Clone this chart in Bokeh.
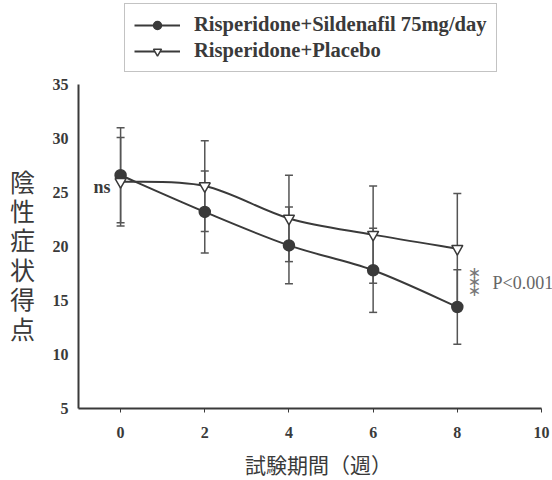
import numpy as np
from bokeh.plotting import figure
from bokeh.models import (ColumnDataSource, Range1d, Whisker, TeeHead, Label,
                          Legend, LegendItem, FixedTicker)
from bokeh.embed import file_html
from bokeh.resources import INLINE

# ---- data ----
weeks = [0, 2, 4, 6, 8]
sil_mean = [26.6, 23.2, 20.1, 17.8, 14.4]
sil_sd = [4.4, 3.8, 3.55, 3.9, 3.45]
pla_mean = [26.0, 25.6, 22.6, 21.1, 19.8]
pla_sd = [4.1, 4.2, 4.0, 4.5, 5.1]
x_ticks = [0, 2, 4, 6, 8, 10]
y_ticks = [5, 10, 15, 20, 25, 30, 35]
series_names = ["Risperidone+Sildenafil 75mg/day", "Risperidone+Placebo"]
y_title = "陰性症状得点"
x_title = "試験期間（週）"

INK = "#3a3a3a"
SERIF = "Liberation Serif"
CJK = "Noto Sans CJK JP"

W, H = 552, 480
# axis box in page pixels: x=-1 at 78, x=10 at 541; y=35 at 84, y=5 at 408
PX_X = (541 - 78) / 11.0
PX_Y = (408 - 84) / 30.0


def X(px):  # page pixel -> data x
    return -1 + (px - 78) / PX_X


def Y(py):  # page pixel -> data y
    return 5 + (408 - py) / PX_Y


p = figure(width=W, height=H, output_backend="svg", toolbar_location=None,
           x_range=Range1d(X(0), X(W)), y_range=Range1d(Y(H), Y(0)),
           min_border=0)
p.outline_line_color = None
p.xgrid.grid_line_color = None
p.ygrid.grid_line_color = None

for ax in (p.xaxis[0], p.yaxis[0]):
    ax.axis_line_color = INK
    ax.axis_line_width = 2
    ax.minor_tick_line_color = None
    ax.major_label_text_font = SERIF
    ax.major_label_text_font_style = "bold"
    ax.major_label_text_font_size = "16px"
    ax.major_label_text_color = INK
p.xaxis.fixed_location = 5
p.yaxis.fixed_location = -1
p.xaxis.bounds = (-1, 10)
p.yaxis.bounds = (5, 35)
p.xaxis.ticker = FixedTicker(ticks=x_ticks)
p.yaxis.ticker = FixedTicker(ticks=y_ticks)
p.xaxis.major_tick_line_color = INK
p.xaxis.major_tick_line_width = 1
p.xaxis.major_tick_in = 0
p.xaxis.major_tick_out = 4
p.xaxis.major_label_standoff = 14
p.yaxis.major_tick_line_color = None
p.yaxis.major_tick_in = 0
p.yaxis.major_tick_out = 0
p.yaxis.major_label_standoff = 10


def smooth(xs, ys):
    """Excel-style smoothed segments (cubic Bezier through the points)."""
    n = len(xs)
    P = list(zip(xs, ys))
    segs = dict(x0=[], y0=[], x1=[], y1=[], cx0=[], cy0=[], cx1=[], cy1=[])
    for i in range(n - 1):
        pm = P[max(i - 1, 0)]
        p0 = P[i]
        p1 = P[i + 1]
        p2 = P[min(i + 2, n - 1)]
        segs["x0"].append(p0[0]); segs["y0"].append(p0[1])
        segs["x1"].append(p1[0]); segs["y1"].append(p1[1])
        segs["cx0"].append(p0[0] + (p1[0] - pm[0]) / 6)
        segs["cy0"].append(p0[1] + (p1[1] - pm[1]) / 6)
        segs["cx1"].append(p1[0] - (p2[0] - p0[0]) / 6)
        segs["cy1"].append(p1[1] - (p2[1] - p0[1]) / 6)
    return ColumnDataSource(segs)


def add_series(mean, sd, marker, fill):
    m = np.array(mean)
    s = np.array(sd)
    src = ColumnDataSource(dict(x=weeks, y=mean, upper=m + s, lower=m - s))
    w = Whisker(source=src, base="x", upper="upper", lower="lower",
                line_color="#555555", line_width=1.5, level="underlay",
                upper_head=TeeHead(size=8, line_color="#555555", line_width=1.5),
                lower_head=TeeHead(size=8, line_color="#555555", line_width=1.5))
    p.add_layout(w)
    p.bezier(x0="x0", y0="y0", x1="x1", y1="y1", cx0="cx0", cy0="cy0",
             cx1="cx1", cy1="cy1", source=smooth(weeks, mean),
             line_color=INK, line_width=2)
    # legend-only line swatch (no visible data)
    leg_line = p.line(x=[np.nan], y=[np.nan], line_color=INK, line_width=2)
    sc = p.scatter(x="x", y="y", source=src, marker=marker, size=11,
                   fill_color=fill, line_color=INK, line_width=1.5)
    return [leg_line, sc]


r_sil = add_series(sil_mean, sil_sd, "circle", INK)
r_pla = add_series(pla_mean, pla_sd, "inverted_triangle", "white")

legend = Legend(items=[LegendItem(label=series_names[0], renderers=r_sil),
                       LegendItem(label=series_names[1], renderers=r_pla)],
                location=(124, H - 72), orientation="vertical",
                border_line_color="#888888", border_line_width=1,
                background_fill_color="white", background_fill_alpha=1,
                padding=9, spacing=3, margin=0,
                glyph_width=46, glyph_height=20, label_height=20,
                label_standoff=14,
                label_text_font=SERIF, label_text_font_style="bold",
                label_text_font_size="20.6px", label_text_color=INK)
p.add_layout(legend, "center")

# vertical y title, upright characters
for i, ch in enumerate(y_title):
    p.add_layout(Label(x=X(22), y=Y(180 + i * 29.4), text=ch,
                       text_font=CJK, text_font_size="25px", text_color=INK,
                       text_align="center", text_baseline="middle"))

p.add_layout(Label(x=X(318), y=Y(463), text=x_title, text_font=CJK,
                   text_font_size="21px", text_color=INK,
                   text_align="center", text_baseline="middle"))

p.add_layout(Label(x=X(110), y=Y(186), text="ns", text_font=SERIF,
                   text_font_style="bold", text_font_size="18px",
                   text_color=INK, text_align="right", text_baseline="middle"))

for cy in (272, 281, 290):
    p.add_layout(Label(x=X(474), y=Y(cy), text="∗", text_font="DejaVu Sans",
                       text_font_size="16px", text_color="#777777",
                       text_align="center", text_baseline="middle"))

p.add_layout(Label(x=X(492), y=Y(282), text="P<0.001", text_font=SERIF,
                   text_font_size="18px", text_color="#666666",
                   text_align="left", text_baseline="middle"))

open("out.html", "w").write(file_html(p, INLINE))
